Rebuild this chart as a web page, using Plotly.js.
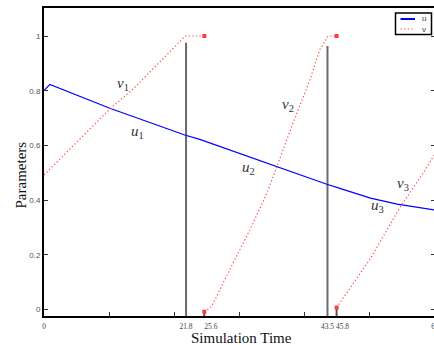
<!DOCTYPE html>
<html>
<head>
<meta charset="utf-8">
<script src="https://cdn.plot.ly/plotly-3.0.1.min.js"></script>
<style>
html,body{margin:0;padding:0;overflow:hidden;background:#fff;}
#chart{width:436px;height:345px;}
</style>
</head>
<body>
<div id="chart"></div>
<script>
// ---- data ----
const uT = [0, 0.9, 10.1, 21.6, 23.9, 35.7, 43.4, 45.4, 50.1, 54.2, 60];
const uV = [0.80, 0.823, 0.736, 0.638, 0.622, 0.522, 0.458, 0.443, 0.407, 0.385, 0.364];

const v1T = [0, 10.1, 13.7, 21.7, 24.6];
const v1V = [0.492, 0.733, 0.807, 1.0, 1.0];
const v2T = [24.6, 25.7, 29.0, 31.6, 34.2, 35.9, 38.2, 40.8, 42.3, 43.6, 44.9];
const v2V = [-0.008, 0.010, 0.169, 0.291, 0.425, 0.535, 0.681, 0.839, 0.949, 1.0, 1.0];
const v3T = [44.9, 50.1, 54.7, 58.5, 60];
const v3V = [0.007, 0.187, 0.376, 0.510, 0.570];

const switchTimes = [21.8, 43.5];
const switchTops = [0.975, 0.963];
const resetTimes = [24.6, 44.9];
const resetLows = [-0.008, 0.007];
const resetHighs = [1.0, 1.0];

const xTickVals = [0, 21.8, 25.6, 43.5, 45.8, 60];
const xTickLabels = ['0', '21.8', '25.6', '43.5', '45.8', '60'];
const xMinorTicks = [10, 20, 30, 40, 50];
const yTickVals = [0, 0.2, 0.4, 0.6, 0.8, 1];
const yTickLabels = ['0', '0.2', '0.4', '0.6', '0.8', '1'];

const curveLabelNames = ['v', 'u', 'v', 'u', 'v', 'u'];
const curveLabelIdx = ['1', '1', '2', '2', '3', '3'];
const curveLabelT = [12.1, 14.3, 37.4, 31.4, 55.1, 51.1];
const curveLabelV = [0.826, 0.649, 0.748, 0.518, 0.459, 0.378];

const legendNames = ['u', 'v'];

// ---- layout constants ----
const W = 436, H = 345;
const M = {l: 44, r: 1, t: 8, b: 29};
const xRange = [0, 60];
const yRange = [-0.0238, 1.1024];
const pw = W - M.l - M.r, ph = H - M.t - M.b;
const px2x = p => (p - M.l) / pw;
const py2y = p => (H - M.b - p) / ph;

const redCol = '#ff4f4f';
const blueCol = '#0000ff';
const grayCol = '#6b6b6b';
const dotDash = '1.3px,2.3px';

function segs(xs, y0s, y1s) {
  const x = [], y = [];
  xs.forEach((t, i) => { x.push(t, t, null); y.push(y0s[i], y1s[i], null); });
  return {x, y};
}
const sw = segs(switchTimes, switchTimes.map(() => yRange[0]), switchTops);
const st = segs(resetTimes, resetTimes.map(() => yRange[0]), resetLows);

const traces = [
  {x: sw.x, y: sw.y, mode: 'lines', line: {color: grayCol, width: 2}, showlegend: false, hoverinfo: 'skip'},
  {x: st.x, y: st.y, mode: 'lines', line: {color: '#555', width: 2}, showlegend: false, hoverinfo: 'skip'},
  {x: uT, y: uV, name: legendNames[0], mode: 'lines', line: {color: blueCol, width: 1.2}, showlegend: false},
  {x: v1T, y: v1V, name: legendNames[1], mode: 'lines', line: {color: redCol, width: 1.2, dash: dotDash}, showlegend: false},
  {x: v2T, y: v2V, name: legendNames[1], mode: 'lines', line: {color: redCol, width: 1.2, dash: dotDash}, showlegend: false},
  {x: v3T, y: v3V, name: legendNames[1], mode: 'lines', line: {color: redCol, width: 1.2, dash: dotDash}, showlegend: false},
  {x: resetTimes.concat(resetTimes), y: resetHighs.concat(resetLows), mode: 'markers',
   marker: {color: '#ff3b3b', size: 4, symbol: 'square'}, showlegend: false, hoverinfo: 'skip'}
];

const annotations = curveLabelNames.map((n, i) => ({
  x: curveLabelT[i], y: curveLabelV[i], xref: 'x', yref: 'y',
  text: '<i>' + n + '</i><sub>' + curveLabelIdx[i] + '</sub>',
  showarrow: false, font: {family: 'Liberation Serif', size: 15, color: '#333'}
}));

annotations.push({
  x: px2x(241), y: py2y(338), xref: 'paper', yref: 'paper', text: 'Simulation Time',
  showarrow: false, xanchor: 'center', yanchor: 'middle',
  font: {family: 'Liberation Serif', size: 15, color: '#111'}
});
annotations.push({
  x: px2x(20.5), y: py2y(175), xref: 'paper', yref: 'paper', text: 'Parameters',
  showarrow: false, textangle: -90, xanchor: 'center', yanchor: 'middle',
  font: {family: 'Liberation Serif', size: 15, color: '#111'}
});

// legend box (drawn by hand to match the compact original)
const legBox = {x0: 395.5, x1: 431.5, y0: 13, y1: 34.5};
const legRows = [19, 29];
const shapes = [
  {type: 'rect', xref: 'paper', yref: 'paper', x0: px2x(legBox.x0), x1: px2x(legBox.x1),
   y0: py2y(legBox.y1), y1: py2y(legBox.y0), line: {color: '#000', width: 1.5}, fillcolor: '#fff', layer: 'above'},
  {type: 'line', xref: 'paper', yref: 'paper', x0: px2x(400.5), x1: px2x(415), y0: py2y(legRows[0]), y1: py2y(legRows[0]),
   line: {color: blueCol, width: 2}, layer: 'above'},
  {type: 'line', xref: 'paper', yref: 'paper', x0: px2x(400.5), x1: px2x(415), y0: py2y(legRows[1]), y1: py2y(legRows[1]),
   line: {color: redCol, width: 1.2, dash: dotDash}, layer: 'above'}
];
legendNames.forEach((n, i) => annotations.push({
  x: px2x(419.5), y: py2y(legRows[i]), xref: 'paper', yref: 'paper', text: n, showarrow: false,
  xanchor: 'left', yanchor: 'middle', font: {family: 'Liberation Sans', size: 8, color: '#444'}
}));

const layout = {
  width: W, height: H, margin: M, showlegend: false,
  paper_bgcolor: '#fff', plot_bgcolor: '#fff',
  xaxis: {
    range: xRange, tickmode: 'array', tickvals: xTickVals, ticktext: xTickLabels,
    ticks: '', tickangle: 0, showgrid: false, zeroline: false, showline: true, mirror: true,
    linecolor: '#000', linewidth: 2, ticklabelstandoff: 2, ticklabeloverflow: 'allow',
    tickfont: {family: 'Liberation Serif', size: 7.5, color: '#444'},
    minor: {tickmode: 'array', tickvals: xMinorTicks, ticks: 'inside', ticklen: 4, tickcolor: '#333', tickwidth: 1, showgrid: false}
  },
  yaxis: {
    range: yRange, tickmode: 'array', tickvals: yTickVals, ticktext: yTickLabels,
    ticks: 'inside', ticklen: 4, tickwidth: 1, tickcolor: '#333',
    showgrid: false, zeroline: false, showline: true, mirror: 'ticks',
    linecolor: '#000', linewidth: 2,
    tickfont: {family: 'Liberation Sans', size: 8, color: '#555'}
  },
  annotations: annotations,
  shapes: shapes
};

Plotly.newPlot('chart', traces, layout, {staticPlot: true, displayModeBar: false});
</script>
</body>
</html>
